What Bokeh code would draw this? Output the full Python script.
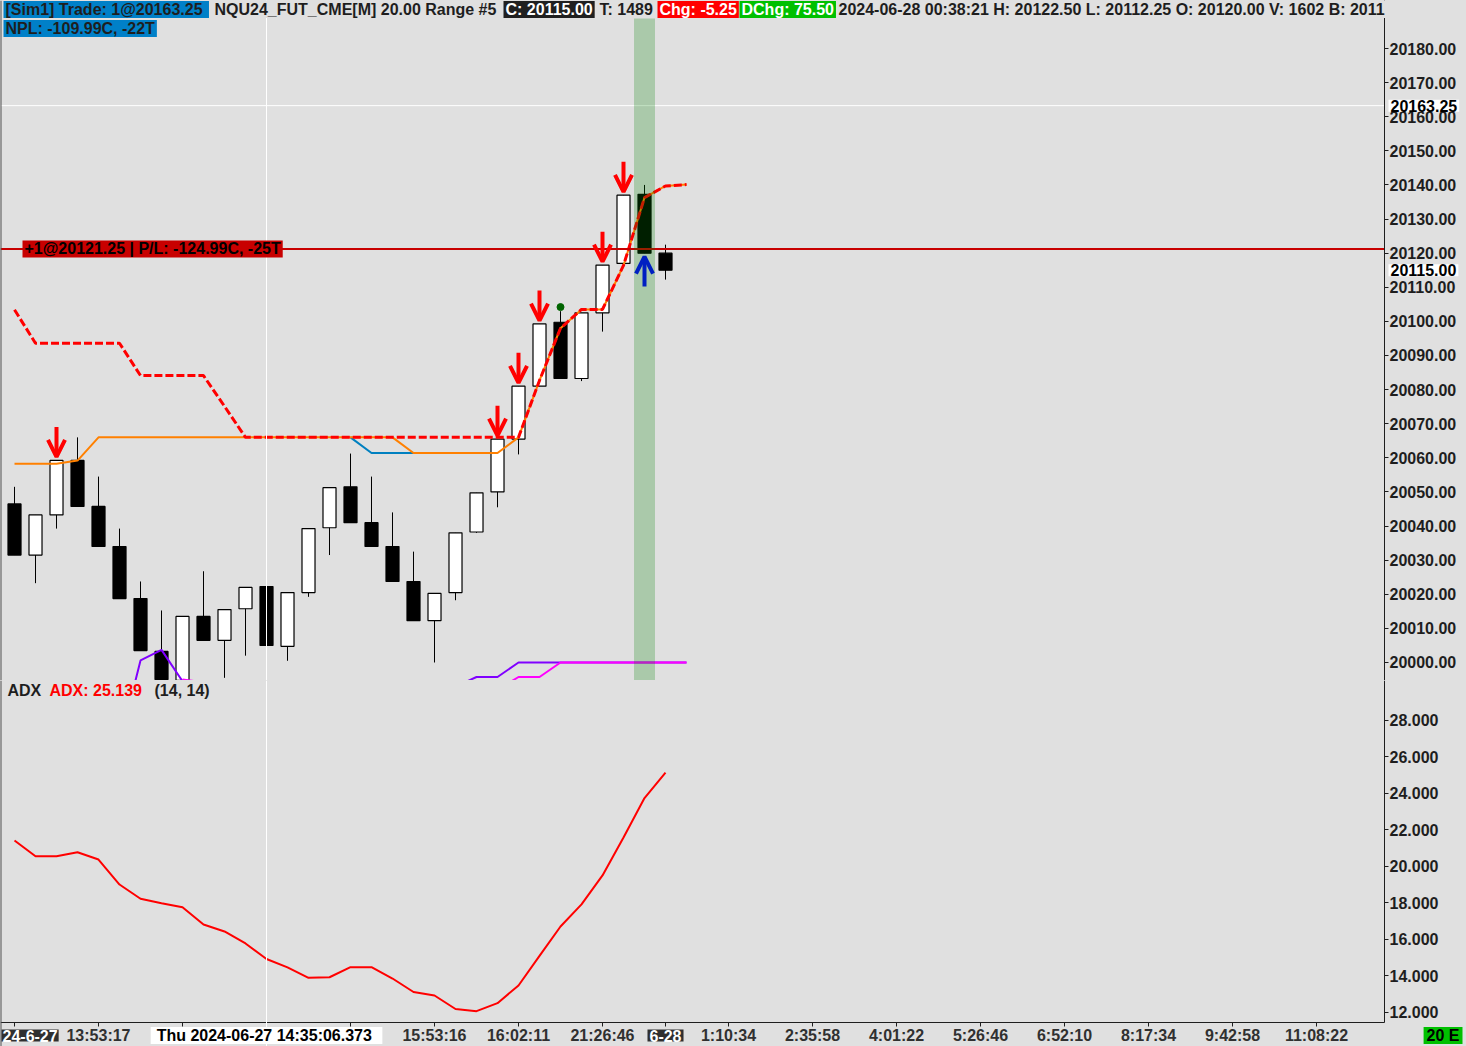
from bokeh.plotting import figure
from bokeh.models import (Range1d, Span, Label, BoxAnnotation, Arrow, OpenHead, LinearAxis,
                          ColumnDataSource, FixedTicker, NumeralTickFormatter)
from bokeh.layouts import column
from bokeh.embed import file_html
from bokeh.resources import INLINE

# ---------------- data ----------------
bar_index = list(range(32))
opens = [20046.50, 20031.50, 20043.25, 20059.25, 20045.75, 20034.00, 20018.75, 20003.25,
         19994.75, 20013.50, 20006.50, 20015.75, 20022.25, 20004.75, 20020.50, 20039.50,
         20051.50, 20041.00, 20034.00, 20023.75, 20012.25, 20020.50, 20038.25, 20050.00,
         20065.50, 20081.00, 20099.75, 20083.25, 20102.50, 20117.00, 20137.25, 20120.00]
highs = [20051.50, 20043.25, 20059.25, 20066.00, 20054.50, 20039.25, 20023.75, 20015.25,
         20013.50, 20026.75, 20015.50, 20022.00, 20025.50, 20020.50, 20039.25, 20051.25,
         20061.25, 20054.50, 20044.00, 20032.50, 20020.25, 20038.00, 20049.75, 20065.50,
         20081.00, 20099.25, 20103.00, 20102.50, 20116.50, 20137.00, 20140.00, 20122.50]
lows = [20031.50, 20023.25, 20039.25, 20045.75, 20034.00, 20018.75, 20003.50, 19995.00,
        19993.50, 20006.50, 19995.50, 20002.00, 20005.00, 20000.50, 20019.25, 20031.50,
        20041.00, 20034.00, 20023.75, 20012.25, 20000.00, 20018.25, 20038.00, 20045.50,
        20061.00, 20081.00, 20083.25, 20082.50, 20097.00, 20117.00, 20120.00, 20112.25]
closes = [20031.50, 20043.25, 20059.25, 20045.75, 20034.00, 20018.75, 20003.50, 19995.00,
          20013.50, 20006.50, 20015.50, 20022.00, 20005.00, 20020.50, 20039.25, 20051.25,
          20041.00, 20034.00, 20023.75, 20012.25, 20020.25, 20038.00, 20049.75, 20065.50,
          20081.00, 20099.25, 20083.25, 20102.50, 20116.50, 20137.00, 20120.00, 20115.00]

trail_x = list(range(33))
trail_y = [20103.4, 20093.6, 20093.6, 20093.6, 20093.6, 20093.6, 20084.1, 20084.1, 20084.1,
           20084.1, 20075.1, 20066.0, 20066.0, 20066.0, 20066.0, 20066.0, 20066.0, 20066.0,
           20066.0, 20066.0, 20066.0, 20066.0, 20066.0, 20066.0, 20066.0, 20082.7, 20098.0,
           20103.5, 20103.5, 20116.4, 20136.3, 20139.7, 20140.1]
orange_y = [20058.25, 20058.25, 20058.25, 20059.2, 20066.0, 20066.0, 20066.0, 20066.0, 20066.0,
            20066.0, 20066.0, 20066.0, 20066.0, 20066.0, 20066.0, 20066.0, 20066.0, 20066.0,
            20066.0, 20061.4, 20061.4, 20061.4, 20061.4, 20061.4, 20066.0, 20082.7, 20098.0,
            20103.5, 20103.5, 20116.4, 20136.3, 20139.7, 20140.1]
blue_x = [16, 17, 18, 19]
blue_y = [20066.0, 20061.4, 20061.4, 20061.4]

purple1_x = [5, 6, 7, 8, 9]
purple1_y = [19976.0, 20000.6, 20003.7, 19994.5, 19980.0]
magenta1_x = [8, 9, 10]
magenta1_y = [19995.0, 19994.2, 19988.0]
purple2_x = [21, 22, 23, 24, 25, 26, 27, 28, 29, 30, 31, 32]
purple2_y = [19992.9, 19995.75, 19995.75, 20000.0, 20000.0, 20000.0, 20000.0, 20000.0,
             20000.0, 20000.0, 20000.0, 20000.0]
magenta2_x = [23, 24, 25, 26, 27, 28, 29, 30, 31, 32]
magenta2_y = [19992.0, 19995.75, 19995.75, 20000.0, 20000.0, 20000.0, 20000.0, 20000.0,
              20000.0, 20000.0]

dot_x = [26, 7]
dot_y = [20104.2, 19993.0]

adx = [21.42, 20.56, 20.56, 20.78, 20.38, 19.01, 18.23, 17.99, 17.77, 16.82, 16.44, 15.78,
       14.93, 14.47, 13.90, 13.93, 14.48, 14.48, 13.86, 13.12, 12.93, 12.19, 12.07, 12.51,
       13.48, 15.10, 16.71, 17.92, 19.51, 21.59, 23.75, 25.139]

sell_signal_bars = [2, 23, 24, 25, 28, 29]
buy_signal_bars = [30]
entry_bar = 30
entry_price = 20121.25
last_trade_price = 20163.25
last_price = 20115.00
crosshair_bar = 12

price_ticks = list(range(20000, 20181, 10))
adx_ticks = list(range(12, 29, 2))
time_ticks = [0, 4, 8, 12, 16, 20, 24, 28, 31, 34, 38, 42, 46, 50, 54, 58, 62]
time_labels = ["", "13:53:17", "", "", "", "15:53:16", "16:02:11", "21:26:46", "",
               "1:10:34", "2:35:58", "4:01:22", "5:26:46", "6:52:10", "8:17:34",
               "9:42:58", "11:08:22"]

header_texts = ["[Sim1]  Trade: 1@20163.25", "NQU24_FUT_CME[M]  20.00 Range #5",
                "C: 20115.00", "T: 1489", "Chg: -5.25", "DChg: 75.50",
                "2024-06-28 00:38:21 H: 20122.50 L: 20112.25 O: 20120.00 V: 1602 B: 2011"]

# ---------------- style / layout ----------------
FONT = "Liberation Sans"
BG = "#e0e0e0"
DARK = "#1e1e1e"
W = 1466
BAR_PX = 21
PLOT_W = 1384          # width of the chart area left of the price scale
HEADER_H = 18
PH = 680               # price panel height (incl. header strip)
AH = 366               # adx panel height (incl. time strip)
STRIP_H = 24
PRICE_PX = 3.411
ADX_PX = 18.25
X0 = -0.667
P0 = 19994.72
A_TOP = 30.19

x_range = Range1d(X0, X0 + W / BAR_PX)
axis_x = X0 + PLOT_W / BAR_PX
price_range = Range1d(P0, P0 + PH / PRICE_PX)
band_top = P0 + (PH - HEADER_H) / PRICE_PX
adx_range = Range1d(A_TOP - AH / ADX_PX, A_TOP)
adx_axis_y = A_TOP - (AH - STRIP_H) / ADX_PX


def make_fig(fh, yr):
    f = figure(frame_width=W, frame_height=fh, x_range=x_range, y_range=yr,
               x_axis_location=None, y_axis_location=None, toolbar_location=None,
               output_backend="svg", background_fill_color=BG, border_fill_color=BG,
               outline_line_color=None, min_border=0)
    f.grid.visible = False
    f.add_layout(Span(location=X0, dimension="height", line_color="#505050", line_width=2))
    return f


def style_axis(ax, color=DARK, standoff=1):
    ax.axis_line_color = DARK
    ax.major_tick_line_color = DARK
    ax.major_tick_out = 4
    ax.major_tick_in = 0
    ax.minor_tick_line_color = None
    ax.major_label_text_font = FONT
    ax.major_label_text_font_style = "bold"
    ax.major_label_text_font_size = "16px"
    ax.major_label_text_color = color
    ax.major_label_standoff = standoff


def tag(fig, text, x, y, xu="screen", yu="screen", bg=None, fg=DARK, align="left", pad=2):
    fig.add_layout(Label(x=x, y=y, x_units=xu, y_units=yu, text=text, text_font=FONT,
                         text_font_style="bold", text_font_size="16px", text_color=fg,
                         text_align=align, text_baseline="middle",
                         background_fill_color=bg,
                         padding=dict(left=pad, right=pad, top=0, bottom=0)))


# ---------------- price panel ----------------
p = make_fig(PH, price_range)
yax = LinearAxis(fixed_location=axis_x, ticker=FixedTicker(ticks=price_ticks),
                 formatter=NumeralTickFormatter(format="0.00"))
style_axis(yax)
p.add_layout(yax, "right")

p.add_layout(Span(location=crosshair_bar, dimension="height", line_color="white", line_width=1))
p.segment(x0=[X0], y0=[last_trade_price], x1=[axis_x], y1=[last_trade_price],
          line_color="white", line_width=1)

up = [i for i in bar_index if closes[i] >= opens[i]]
dn = [i for i in bar_index if closes[i] < opens[i]]
p.segment(x0=bar_index, y0=lows, x1=bar_index, y1=highs, line_color="black", line_width=1)
p.vbar(x=up, width=0.62, top=[closes[i] for i in up], bottom=[opens[i] for i in up],
       fill_color="white", line_color="black", line_width=1.2)
p.vbar(x=dn, width=0.62, top=[opens[i] for i in dn], bottom=[closes[i] for i in dn],
       fill_color="black", line_color="black", line_width=1.2)

p.line(purple1_x, purple1_y, line_color="#8000ff", line_width=2)
p.line(magenta1_x, magenta1_y, line_color="#ff00ff", line_width=2)
p.line(purple2_x, purple2_y, line_color="#8000ff", line_width=2)
p.line(magenta2_x, magenta2_y, line_color="#ff00ff", line_width=2)

p.line(blue_x, blue_y, line_color="#0080c0", line_width=2)
p.line(trail_x, orange_y, line_color="#ff8000", line_width=2)
p.line(trail_x, trail_y, line_color="#ff0000", line_width=3, line_dash="8 3")

p.scatter(dot_x, dot_y, size=7, color="#006400")

p.segment(x0=[X0], y0=[entry_price], x1=[axis_x], y1=[entry_price],
          line_color="#c80000", line_width=2)

sell_src = ColumnDataSource(dict(x=sell_signal_bars,
                                 y0=[highs[i] + 9.8 for i in sell_signal_bars],
                                 y1=[highs[i] + 1.0 for i in sell_signal_bars]))
p.add_layout(Arrow(end=OpenHead(line_color="#ff0000", line_width=4, size=17),
                   x_start="x", y_start="y0", x_end="x", y_end="y1",
                   line_color="#ff0000", line_width=4, source=sell_src))
buy_src = ColumnDataSource(dict(x=buy_signal_bars,
                                y0=[lows[i] - 9.8 for i in buy_signal_bars],
                                y1=[lows[i] - 1.0 for i in buy_signal_bars]))
p.add_layout(Arrow(end=OpenHead(line_color="#0000ff", line_width=4, size=17),
                   x_start="x", y_start="y0", x_end="x", y_end="y1",
                   line_color="#0000ff", line_width=4, source=buy_src))

p.add_layout(BoxAnnotation(left=entry_bar - 0.5, right=entry_bar + 0.5, top=band_top,
                           fill_color="#008000", fill_alpha=0.24, line_color=None))

# header
hx = [3, 212, 503, 597, 657, 739, 836]
hbg = ["#0080c8", BG, "#202020", BG, "#ff0000", "#00c000", BG]
hfg = [DARK, DARK, "white", DARK, "white", "white", DARK]
for t, x, b, c in zip(header_texts, hx, hbg, hfg):
    tag(p, t, x, PH - 9, bg=b, fg=c)
tag(p, "NPL: -109.99C, -22T", 3, PH - 28, bg="#0080c8")
tag(p, "+1@20121.25 | P/L: -124.99C, -25T", 22, entry_price, yu="data", bg="#c80000", fg="black")
tag(p, "%.2f" % last_trade_price, PLOT_W + 4, last_trade_price, yu="data", bg="white", fg="black")
tag(p, "%.2f" % last_price, PLOT_W + 4, last_price, yu="data", bg="white", fg="black")

# ---------------- ADX panel ----------------
a = make_fig(AH, adx_range)
ayax = LinearAxis(fixed_location=axis_x, ticker=FixedTicker(ticks=adx_ticks),
                  formatter=NumeralTickFormatter(format="0.000"), bounds=(adx_axis_y, A_TOP))
style_axis(ayax)
a.add_layout(ayax, "right")
xax = LinearAxis(fixed_location=adx_axis_y, ticker=FixedTicker(ticks=time_ticks),
                 bounds=(X0, axis_x))
xax.major_label_overrides = {t: l for t, l in zip(time_ticks, time_labels)}
style_axis(xax, "#303030", standoff=0)
a.add_layout(xax, "below")

a.add_layout(Span(location=crosshair_bar, dimension="height", line_color="white", line_width=1))
a.line(bar_index, adx, line_color="#ff0000", line_width=2)

tag(a, "ADX", 5, AH - 10)
tag(a, "ADX: %.3f" % adx[-1], 47, AH - 10, fg="#ff0000")
tag(a, "(14, 14)", 152, AH - 10)

tag(a, "24-6-27", 1, 11, bg="#303030", fg="white", pad=1)
tag(a, "Thu 2024-06-27  14:35:06.373", crosshair_bar, 11, xu="data", bg="white", fg="black",
    align="center", pad=6)
tag(a, "6-28", 31, 11, xu="data", bg="#303030", fg="white", align="center", pad=2)
tag(a, "20 E", W - 4, 11, bg="#00c000", fg="black", align="right", pad=3)

layout = column(p, a, spacing=0, styles={"background-color": BG})
open("out.html", "w").write(file_html(layout, INLINE))
